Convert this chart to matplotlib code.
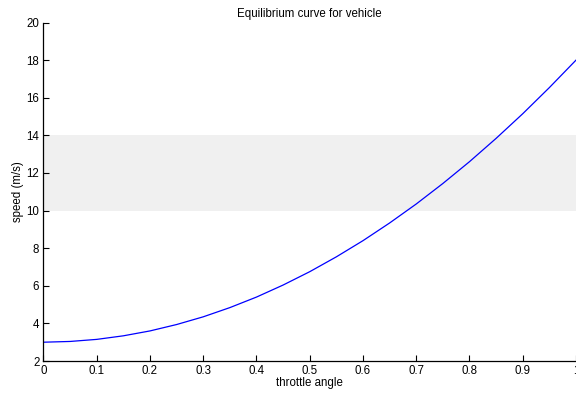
import matplotlib
matplotlib.use('Agg')
import matplotlib.pyplot as plt

# throttle angle vs equilibrium speed
throttle = [0.0, 0.05, 0.1, 0.15, 0.2, 0.25, 0.3, 0.35, 0.4, 0.45, 0.5,
            0.55, 0.6, 0.65, 0.7, 0.75, 0.8, 0.85, 0.9, 0.95, 1.0]
speed = [3.0, 3.04, 3.15, 3.34, 3.6, 3.94, 4.35, 4.84, 5.4, 6.04, 6.75,
         7.54, 8.4, 9.34, 10.35, 11.44, 12.6, 13.84, 15.15, 16.54, 18.0]

band = [10, 14]
xticks = [0, 0.1, 0.2, 0.3, 0.4, 0.5, 0.6, 0.7, 0.8, 0.9, 1]
xticklabels = ['0', '0.1', '0.2', '0.3', '0.4', '0.5', '0.6', '0.7', '0.8', '0.9', '1']
yticks = [2, 4, 6, 8, 10, 12, 14, 16, 18, 20]

plt.rcParams['font.family'] = ['Liberation Sans', 'DejaVu Sans']

fig = plt.figure(figsize=(5.76, 3.93), dpi=100)
ax = fig.add_axes([0.0755, 0.0814, 0.9245, 0.8613])

ax.axhspan(band[0], band[1], color='#f0f0f0', lw=0, zorder=0)
ax.plot(throttle, speed, color='#0000ff', lw=0.9)

ax.set_xlim(0, 1)
ax.set_ylim(2, 20)
ax.set_xticks(xticks)
ax.set_xticklabels(xticklabels)
ax.set_yticks(yticks)

for s in ['top', 'right']:
    ax.spines[s].set_visible(False)
for s in ['left', 'bottom']:
    ax.spines[s].set_linewidth(0.9)
ax.tick_params(direction='in', length=4, width=0.8, labelsize=8.3, pad=3)

ax.set_title('Equilibrium curve for vehicle', fontsize=8.3, pad=4)
ax.set_xlabel('throttle angle', fontsize=8.3, labelpad=0)
ax.set_ylabel('speed (m/s)', fontsize=8.3, labelpad=2)

fig.savefig('out.png', dpi=100)
